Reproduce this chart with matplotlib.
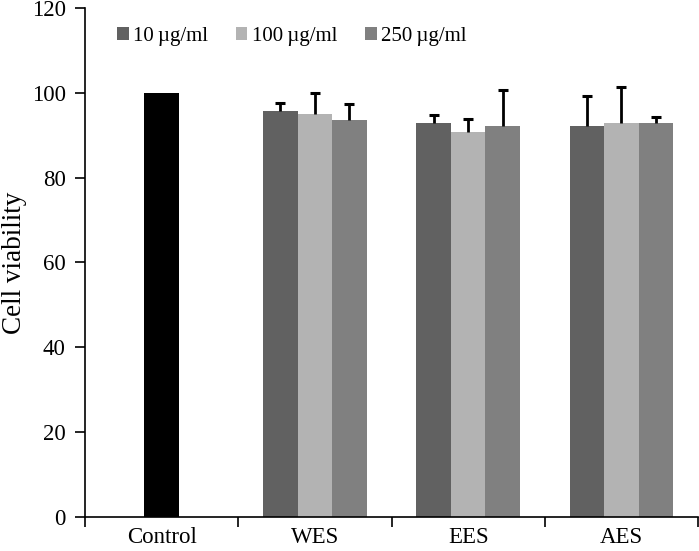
import numpy as np
from matplotlib import pyplot as plt
from matplotlib.patches import Patch

plt.rcParams['font.family'] = ['Liberation Serif', 'DejaVu Serif']

categories = ['Control', 'WES', 'EES', 'AES']
series = ['10\u2009\u00b5g/ml', '100\u2009\u00b5g/ml', '250\u2009\u00b5g/ml']
control_value = 100
means = {
    '10': [95.8, 92.9, 92.2],
    '100': [94.9, 90.7, 92.9],
    '250': [93.5, 92.2, 92.9],
}
errors = {
    '10': [1.8, 1.8, 7.1],
    '100': [5.0, 3.0, 8.4],
    '250': [3.8, 8.5, 1.4],
}
colors = ['#616161', '#b3b3b3', '#808080']

fig = plt.figure(figsize=(6.99, 5.51), dpi=100)
ax = fig.add_axes([0.1216, 0.0617, 0.877, 0.924])

width = 0.225
ax.bar(0, control_value, width=0.23, color='black')

groups = np.arange(1, 4)
for i, key in enumerate(['10', '100', '250']):
    x = groups + (i - 1) * width
    m = np.array(means[key])
    e = np.array(errors[key])
    ax.bar(x, m, width=width, color=colors[i])
    # upper error only: stem plus a cap on top
    ax.errorbar(x, m, yerr=[np.zeros(3), e], fmt='none',
                ecolor='black', elinewidth=2.0, capsize=0)
    ax.plot(x, m + e, linestyle='none', marker='_', markersize=7.5,
            markeredgewidth=2.2, color='black')

ax.set_xlim(-0.5, 3.5)
ax.set_ylim(0, 120)
ax.set_yticks(np.arange(0, 121, 20))
ax.set_xticks(np.arange(-0.5, 3.6, 1))
ax.set_xticklabels([])
ax.set_xticks(np.arange(0, 4), minor=True)
ax.set_xticklabels(categories, minor=True)
ax.tick_params(axis='x', which='minor', length=0, pad=7, labelsize=16.5)
ax.tick_params(axis='x', which='major', length=7, direction='out', width=1.2)
ax.tick_params(axis='y', length=7, direction='out', labelsize=16.5, pad=7, width=1.2)
for s in ['left', 'bottom']:
    ax.spines[s].set_linewidth(1.2)
ax.spines['top'].set_visible(False)
ax.spines['right'].set_visible(False)
ax.set_ylabel('Cell viability', fontsize=19.5)
ax.yaxis.set_label_coords(-0.094, 0.5)

handles = [Patch(facecolor=c) for c in colors]
ax.legend(handles, series, loc='upper left', bbox_to_anchor=(0.022, 1.0),
          ncol=3, frameon=False, fontsize=15, handlelength=0.55, handleheight=0.55,
          handletextpad=0.2, columnspacing=1.35)

fig.savefig('out.png', dpi=100)
